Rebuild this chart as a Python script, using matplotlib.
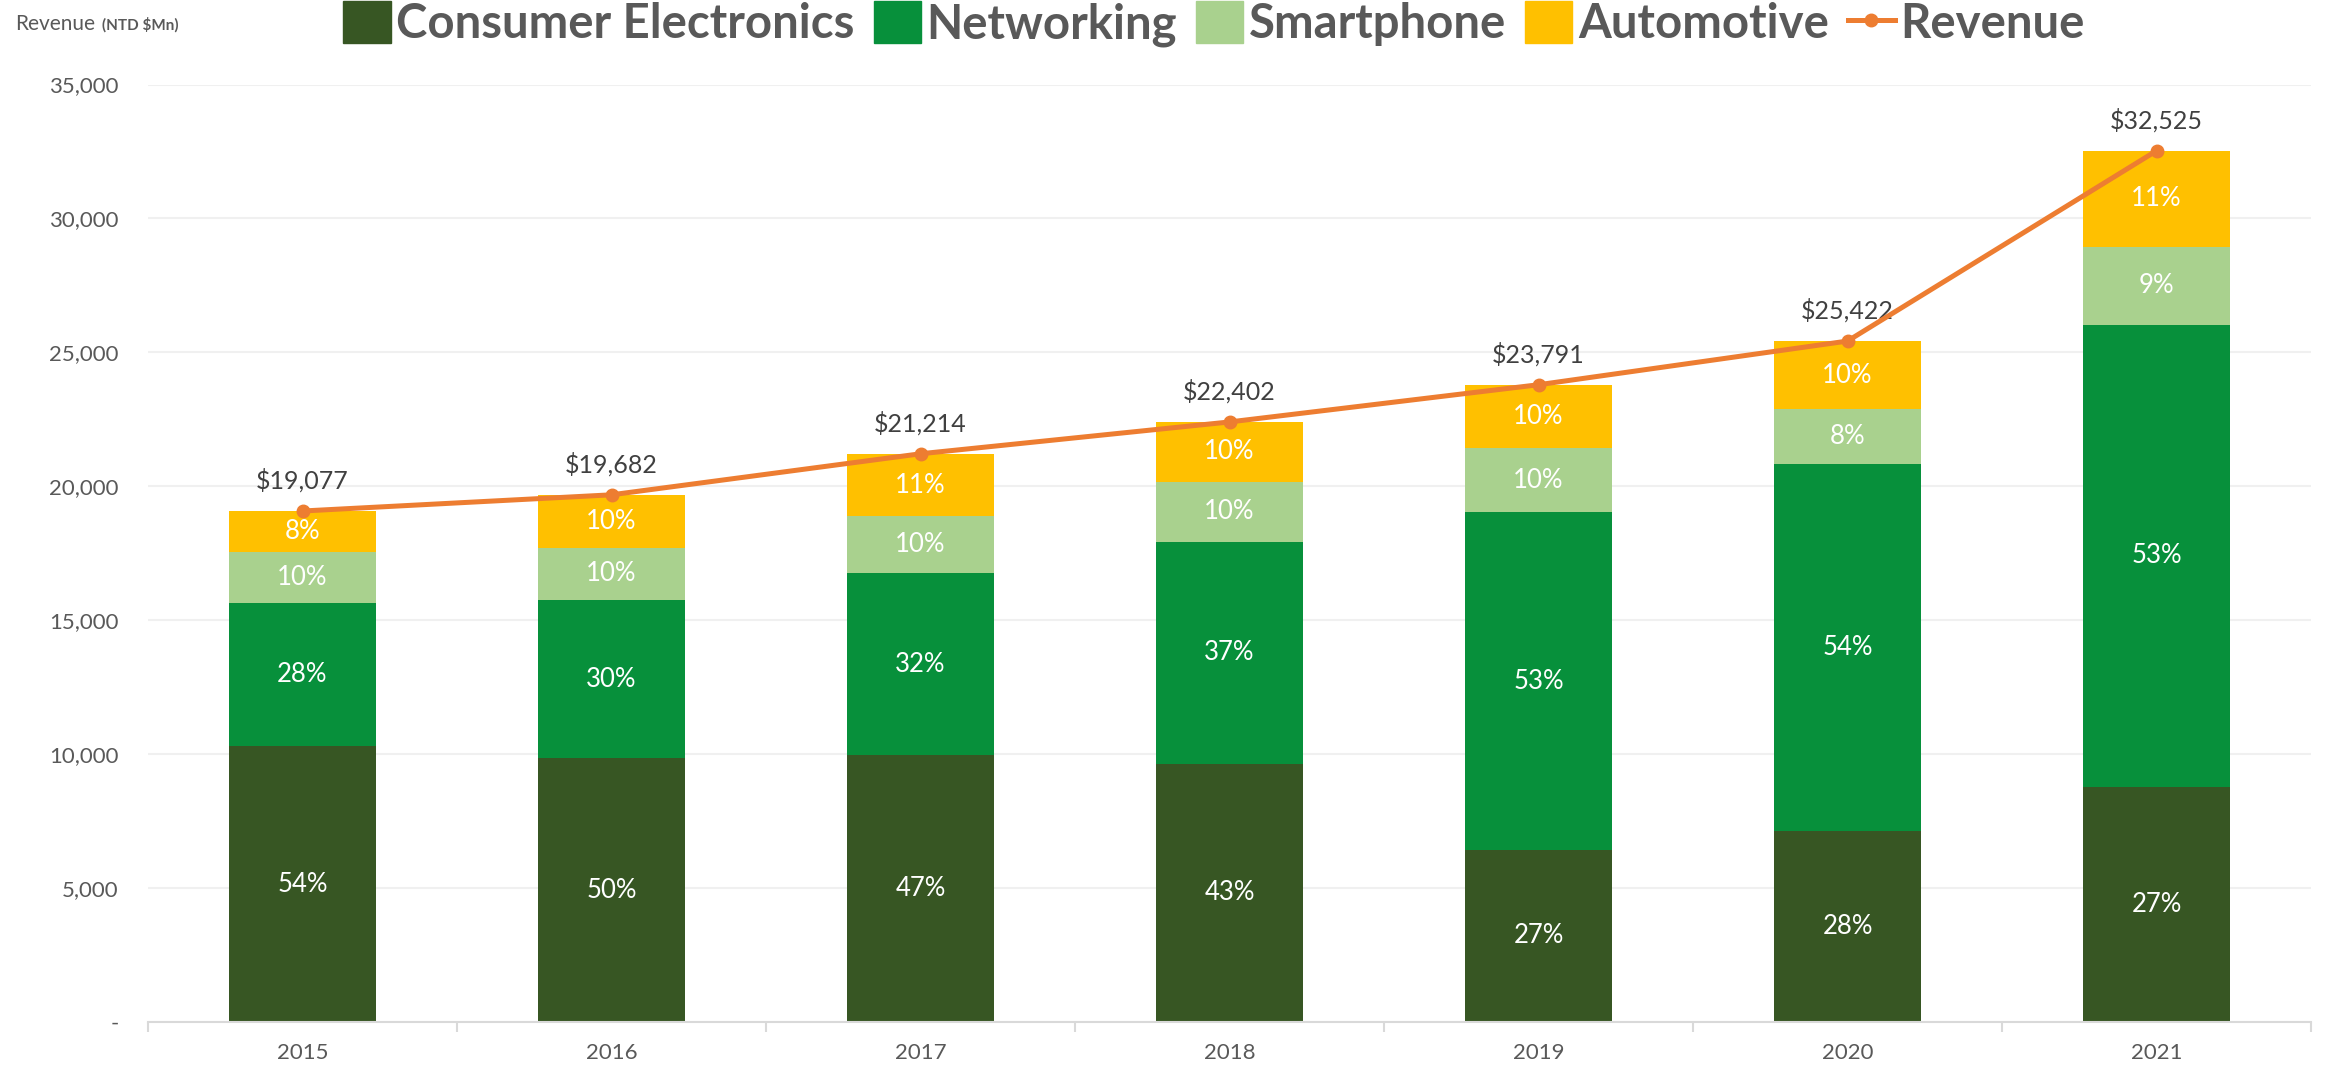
import matplotlib.pyplot as plt
import numpy as np
from matplotlib.patches import Patch
from matplotlib.lines import Line2D
from matplotlib.ticker import FuncFormatter, MultipleLocator

plt.rcParams['font.family'] = ['Lato', 'DejaVu Sans']

# data
years = ['2015', '2016', '2017', '2018', '2019', '2020', '2021']
revenue = [19077, 19682, 21214, 22402, 23791, 25422, 32525]  # NTD $Mn
share_ce = [54, 50, 47, 43, 27, 28, 27]
share_net = [28, 30, 32, 37, 53, 54, 53]
share_phone = [10, 10, 10, 10, 10, 8, 9]
share_auto = [8, 10, 11, 10, 10, 10, 11]

segments = ['Consumer Electronics', 'Networking', 'Smartphone', 'Automotive']
shares = [share_ce, share_net, share_phone, share_auto]
colors = ['#375623', '#07903B', '#A9D18E', '#FFC000']
line_color = '#ED7D31'
grey = '#595959'

fig = plt.figure(figsize=(23.26, 10.67), dpi=100)
ax = fig.add_axes([148 / 2326, 1 - 1022 / 1067, (2311 - 148) / 2326, (1022 - 84.5) / 1067])

x = np.arange(len(years))
rev = np.array(revenue, dtype=float)
bottom = np.zeros(len(years))
for name, sh, col in zip(segments, shares, colors):
    h = rev * np.array(sh) / 100.0
    ax.bar(x, h, width=0.476, bottom=bottom, color=col, zorder=2)
    for xi, b, hi, s in zip(x, bottom, h, sh):
        ax.text(xi, b + hi / 2, f'{s}%', ha='center', va='center',
                color='white', fontsize=18.5, zorder=4)
    bottom += h

ax.plot(x, rev, color=line_color, lw=3.6, marker='o', ms=9, zorder=5)
for xi, r in zip(x, rev):
    ax.annotate(f'${r:,.0f}', (xi, r), xytext=(0, 13), textcoords='offset points',
                ha='center', va='bottom', fontsize=18, color='#404040')

ax.set_xlim(-0.5, len(years) - 0.5)
ax.set_ylim(0, 35000)
ax.yaxis.set_major_locator(MultipleLocator(5000))
ax.yaxis.set_major_formatter(FuncFormatter(lambda v, p: '-' if v == 0 else f'{v:,.0f}'))
ax.grid(axis='y', color='#F0F0F0', lw=1.5, zorder=0)
ax.set_axisbelow(True)

ax.set_xticks(x)
ax.set_xticklabels(years)
ax.set_xticks(np.arange(-0.5, len(years)), minor=True)
ax.tick_params(axis='x', which='major', length=0, pad=15, labelsize=16, labelcolor=grey)
ax.tick_params(axis='x', which='minor', length=7, width=1.5, color='#D9D9D9')
ax.tick_params(axis='y', length=0, pad=21, labelsize=16, labelcolor=grey)

for s in ['top', 'right', 'left']:
    ax.spines[s].set_visible(False)
ax.spines['bottom'].set_color('#D9D9D9')
ax.spines['bottom'].set_linewidth(1.5)

# axis title top-left
fig.text(15 / 2326, 1 - 24 / 1067, 'Revenue', fontsize=15, color=grey,
         ha='left', va='center')
fig.text(102 / 2326, 1 - 25 / 1067, '(NTD $Mn)', fontsize=11, color=grey, fontweight='bold',
         ha='left', va='center')

handles = [Patch(color=c) for c in colors]
handles.append(Line2D([], [], color=line_color, lw=3.6, marker='o', ms=9))
fig.legend(handles, segments + ['Revenue'], loc='center', ncol=5,
           bbox_to_anchor=(0.522, 1 - 24 / 1067), frameon=False,
           prop={'weight': 'bold', 'size': 34},
           labelcolor=grey, handlelength=1.0, handleheight=1.0,
           handletextpad=0.12, columnspacing=0.4)

fig.savefig('out.png', dpi=100)
